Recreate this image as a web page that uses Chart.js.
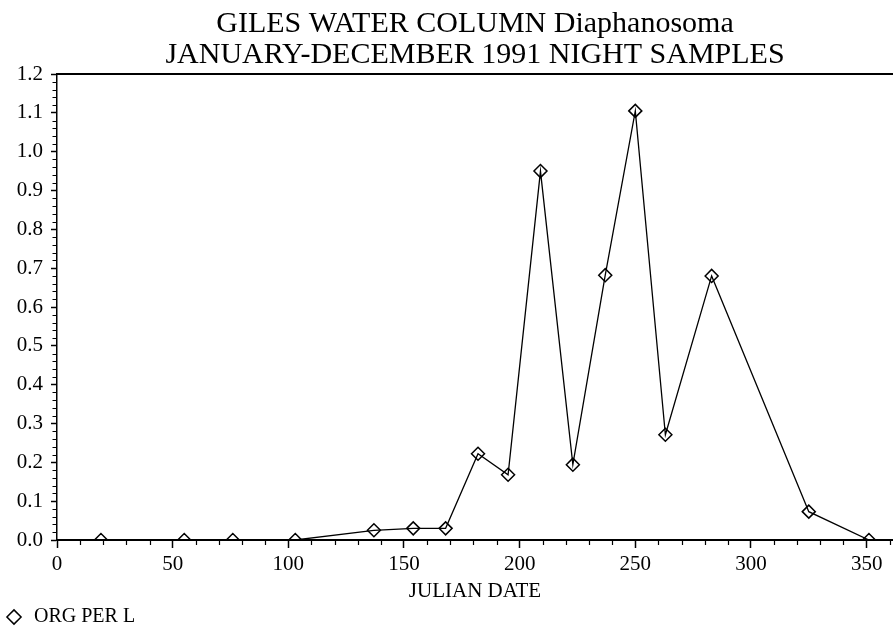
<!DOCTYPE html>
<html lang="en">

<head>
    <meta charset="UTF-8">
    <title>Giles Water Column Diaphanosoma</title>
    <style>
        body {
            margin: 0;
            padding: 0;
            background-color: #ffffff;
            overflow: hidden;
        }

        /* a little larger than the window: the original plot is cut off at the right */
        #wrap {
            position: relative;
            width: 901px;
            height: 637px;
        }
    </style>
</head>

<body>
    <div id="wrap">
        <canvas id="daphChart"></canvas>
    </div>

    <script src="https://cdn.jsdelivr.net/npm/chart.js@4.4.1/dist/chart.umd.min.js"></script>
    <script>
        // Julian date of each night sample and organisms per litre
        const julianDays = [19, 55, 76, 103, 137, 154, 168, 182, 195, 209, 223, 237, 250, 263, 283, 325, 351];
        const orgPerL = [0, 0, 0, 0, 0.025, 0.03, 0.03, 0.222, 0.168, 0.95, 0.194, 0.682, 1.105, 0.271, 0.68, 0.073, 0];

        const xTicks = [0, 50, 100, 150, 200, 250, 300, 350];
        const yTicks = [0, 0.1, 0.2, 0.3, 0.4, 0.5, 0.6, 0.7, 0.8, 0.9, 1.0, 1.1, 1.2];
        const xMinorStep = 10;
        const yMinorStep = 0.02;

        const titleLines = ['GILES WATER COLUMN Diaphanosoma', 'JANUARY-DECEMBER 1991 NIGHT SAMPLES'];
        const serif = "'Liberation Serif', 'Times New Roman', serif";

        // small ticks between the labelled ones, like the old plotter output
        const minorTicks = {
            id: 'minorTicks',
            afterDraw(chart) {
                const { ctx, chartArea, scales } = chart;
                ctx.save();
                ctx.strokeStyle = '#000';
                ctx.lineWidth = 1.2;
                ctx.beginPath();
                for (let v = 0; v <= scales.x.max; v += xMinorStep) {
                    if (v % 50 === 0) continue;
                    const px = Math.round(scales.x.getPixelForValue(v)) + 0.5;
                    ctx.moveTo(px, chartArea.bottom);
                    ctx.lineTo(px, chartArea.bottom + 5);
                }
                for (let i = 0; i * yMinorStep <= 1.2 + 1e-9; i++) {
                    if (i % 5 === 0) continue;
                    const py = Math.round(scales.y.getPixelForValue(i * yMinorStep)) + 0.5;
                    ctx.moveTo(chartArea.left - 4.5, py);
                    ctx.lineTo(chartArea.left, py);
                }
                ctx.stroke();
                ctx.restore();
            }
        };

        const noSidePad = s => { s.paddingLeft = 0; s.paddingRight = 0; };

        const ctx = document.getElementById('daphChart').getContext('2d');

        new Chart(ctx, {
            type: 'line',
            data: {
                datasets: [{
                    label: 'ORG PER L',
                    data: julianDays.map((d, i) => ({ x: d, y: orgPerL[i] })),
                    borderColor: '#000',
                    backgroundColor: 'transparent',
                    borderWidth: 1.3,
                    tension: 0,
                    fill: false,
                    pointStyle: 'rectRot',
                    pointRadius: 6.5,
                    pointBorderWidth: 1.5,
                    pointBorderColor: '#000',
                    pointBackgroundColor: 'transparent'
                }]
            },
            options: {
                responsive: true,
                maintainAspectRatio: false,
                animation: false,
                layout: { padding: 0 },
                plugins: {
                    title: {
                        display: true,
                        text: titleLines,
                        color: '#000',
                        fullSize: false,
                        font: { family: serif, size: 30, weight: 'normal', lineHeight: 1.05 },
                        padding: { top: 8, bottom: 3 }
                    },
                    legend: {
                        display: true,
                        position: 'bottom',
                        align: 'start',
                        labels: {
                            usePointStyle: true,
                            boxWidth: 20,
                            boxHeight: 10,
                            padding: 4,
                            color: '#000',
                            font: { family: serif, size: 20 }
                        }
                    },
                    tooltip: { enabled: false }
                },
                scales: {
                    x: {
                        type: 'linear',
                        position: 'bottom',
                        min: 0,
                        max: 361.4,
                        afterBuildTicks: s => { s.ticks = xTicks.map(v => ({ value: v })); },
                        afterFit: s => { noSidePad(s); s.height = 63; },
                        ticks: {
                            color: '#000',
                            padding: 4,
                            maxRotation: 0,
                            autoSkip: false,
                            font: { family: serif, size: 21 },
                            callback: v => String(v)
                        },
                        grid: {
                            drawOnChartArea: false,
                            tickLength: 8,
                            tickColor: '#000',
                            tickWidth: 1.5
                        },
                        border: { color: '#000', width: 2 },
                        title: {
                            display: true,
                            text: 'JULIAN DATE',
                            color: '#000',
                            font: { family: serif, size: 21, lineHeight: 1.0 },
                            padding: { top: 0, bottom: 1.5 }
                        }
                    },
                    xTop: {
                        type: 'linear',
                        position: 'top',
                        min: 0,
                        max: 361.4,
                        afterFit: noSidePad,
                        ticks: { display: false },
                        grid: { drawOnChartArea: false, drawTicks: false },
                        border: { color: '#000', width: 2 }
                    },
                    y: {
                        min: 0,
                        max: 1.2,
                        afterBuildTicks: s => { s.ticks = yTicks.map(v => ({ value: v })); },
                        afterFit: s => { s.width = 57; },
                        ticks: {
                            color: '#000',
                            padding: 8,
                            autoSkip: false,
                            font: { family: serif, size: 21 },
                            callback: v => Number(v).toFixed(1)
                        },
                        grid: {
                            drawOnChartArea: false,
                            tickLength: 6,
                            tickColor: '#000',
                            tickWidth: 1.5
                        },
                        border: { color: '#000', width: 1.5 }
                    }
                }
            },
            plugins: [minorTicks]
        });
    </script>
</body>

</html>
